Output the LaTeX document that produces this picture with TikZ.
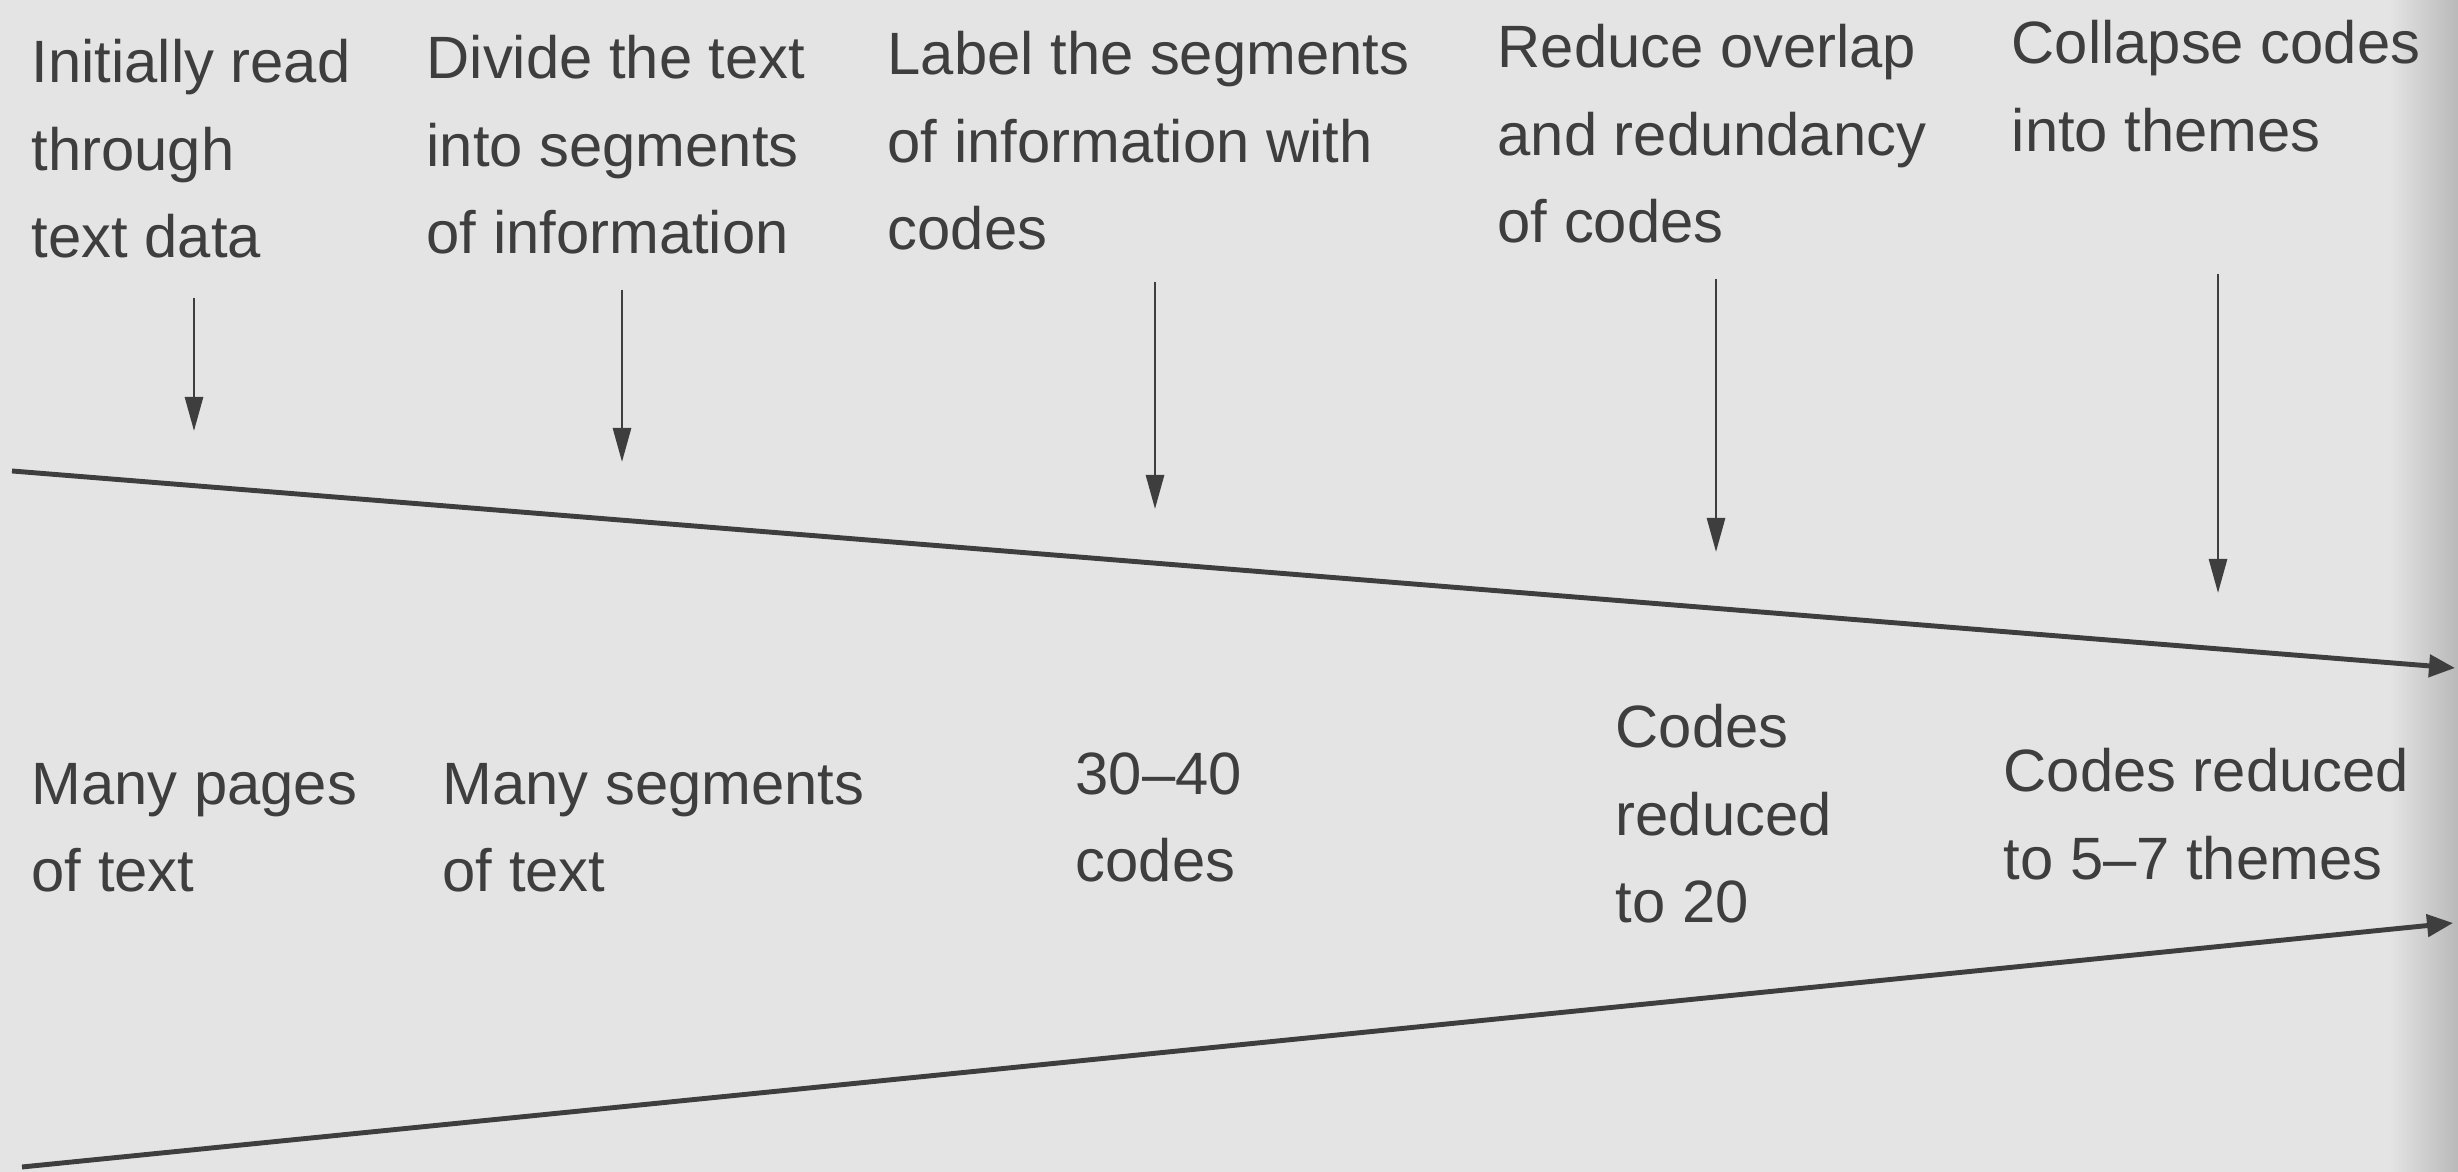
\documentclass[tikz,border=0pt]{standalone}
\usepackage{fontspec}
\setmainfont{Liberation Sans}
\usetikzlibrary{arrows.meta}
\definecolor{paper}{RGB}{228,228,228}
\definecolor{ink}{RGB}{62,62,62}

\begin{document}
\begin{tikzpicture}[x=0.1mm,y=0.1mm,
    stage/.style={anchor=north west,inner sep=0pt,align=left,text=ink,
                  font=\fontsize{17}{24.8}\selectfont},
    down/.style={-{Triangle[length=3.4mm,width=1.8mm]},draw=ink,line width=0.8pt},
    funnel/.style={-{Triangle[length=2.6mm,width=2.2mm]},draw=ink,line width=1.4pt}]
    % page
    \fill[paper] (0,0) rectangle (2458,1172);
    \shade[left color=paper,right color=gray!55] (2390,0) rectangle (2458,1172);
    \useasboundingbox (0,0) rectangle (2458,1172);

    % steps of the coding process
    \node[stage] (read)     at (31,1133)   {Initially read\\through\\text data};
    \node[stage] (divide)   at (426,1137)  {Divide the text\\into segments\\of information};
    \node[stage] (label)    at (887,1141)  {Label the segments\\of information with\\codes};
    \node[stage] (reduce)   at (1497,1148) {Reduce overlap\\and redundancy\\of codes};
    \node[stage] (collapse) at (2011,1152) {Collapse codes\\into themes};

    % what is left after each step
    \node[stage] (pages)    at (31,409)    {Many pages\\of text};
    \node[stage] (segments) at (442,409)   {Many segments\\of text};
    \node[stage] (codes)    at (1075,420)  {30–40\\codes};
    \node[stage] (twenty)   at (1615,468)  {Codes\\reduced\\to 20};
    \node[stage] (themes)   at (2003,424)  {Codes reduced\\to 5–7 themes};

    % the two edges of the funnel
    \coordinate (top0) at (12,701);  \coordinate (top1) at (2455,504);
    \coordinate (bot0) at (22,5);    \coordinate (bot1) at (2453,249);
    \draw[funnel] (top0) -- (top1);
    \draw[funnel] (bot0) -- (bot1);

    % step arrows
    \coordinate (r0) at (194,874);  \coordinate (r1) at (194,741);
    \coordinate (d0) at (622,882);  \coordinate (d1) at (622,710);
    \coordinate (l0) at (1155,890); \coordinate (l1) at (1155,663);
    \coordinate (o0) at (1716,893); \coordinate (o1) at (1716,620);
    \coordinate (c0) at (2218,898); \coordinate (c1) at (2218,579);
    \draw[down] (r0) -- (r1);
    \draw[down] (d0) -- (d1);
    \draw[down] (l0) -- (l1);
    \draw[down] (o0) -- (o1);
    \draw[down] (c0) -- (c1);
\end{tikzpicture}
\end{document}
